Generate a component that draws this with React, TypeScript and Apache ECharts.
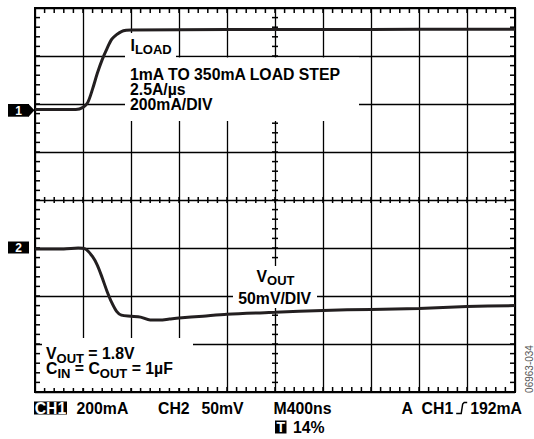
import React, { useEffect, useRef } from "react";
import * as echarts from "echarts";

// ---- data read from the scope shot ----
// time base: 400 ns / div, 10 divisions
const TIME_PER_DIV_NS = 400;
const TIME_DIVS = 10;
const VERT_DIVS = 8;
const MINOR_PER_DIV = 5;
const CH1_MA_PER_DIV = 200; // ILOAD 200 mA/div
const CH2_MV_PER_DIV = 50; // VOUT 50 mV/div
const CH1_GROUND_DIV = 1.875; // marker "1" position (divisions above centre)
const CH2_GROUND_DIV = -1; // marker "2" position

const ch1TimeNs = [0, 340, 400, 440, 480, 520, 560, 600, 640, 680, 720, 760, 800, 1600, 2400, 3200, 4000];
const ch1LoadmA = [2, 2, 11, 32, 88, 154, 210, 256, 295, 314, 327, 332, 333, 335, 335, 336, 336];

const ch2TimeNs = [0, 240, 360, 420, 480, 520, 560, 600, 640, 680, 720, 800, 880, 960, 1040, 1120, 1200, 1400, 1600, 2000, 2400, 2800, 3200, 3600, 4000];
const ch2VoutmV = [-1, -1, 0, -1, -9, -18, -31, -45, -57, -66, -70, -71, -72, -75, -75, -74, -73, -71, -69, -67, -65, -64, -63, -61, -60];

const FONT = '"Liberation Sans", Arial, Helvetica, sans-serif';
const INK = "#000";
const TRACE = "#231f20";
const FS = 15.8;
const SUB = 13;

let measureCtx: CanvasRenderingContext2D | null = null;
function measure(text: string, size: number, weight = "bold") {
  if (!measureCtx) measureCtx = document.createElement("canvas").getContext("2d");
  measureCtx!.font = `${weight} ${size}px ${FONT}`;
  return measureCtx!.measureText(text).width;
}

function txt(x: number, y: number, text: string, size: number, extra: any = {}) {
  return {
    type: "text",
    x,
    y,
    z: 8,
    style: {
      text,
      fontSize: size,
      fontWeight: "bold",
      fontFamily: FONT,
      fill: INK,
      align: "left",
      verticalAlign: "middle",
      ...extra,
    },
  };
}

// pieces: [text, size, dy]
function segs(x: number, y: number, pieces: [string, number, number][]) {
  const out: any[] = [];
  let cx = x;
  for (const [t, s, dy] of pieces) {
    const lead = t.length - t.trimStart().length;
    const leadW = lead ? measure(t.slice(0, lead), s) : 0;
    out.push(txt(cx + leadW, y + dy, t.trimStart(), s));
    cx += measure(t, s);
  }
  return out;
}
function segsWidth(pieces: [string, number, number][]) {
  return pieces.reduce((a, [t, s]) => a + measure(t, s), 0);
}

function whiteBox(x: number, y: number, w: number, h: number) {
  return { type: "rect", z: 6, shape: { x, y, width: w, height: h }, style: { fill: "#fff" } };
}
function blackBox(x: number, y: number, w: number, h: number) {
  return { type: "rect", z: 7, shape: { x, y, width: w, height: h }, style: { fill: "#000" } };
}

export default function App() {
  const ref = useRef<HTMLDivElement>(null);
  useEffect(() => {
    if (!ref.current) return;
    const chart = echarts.init(ref.current, undefined, { renderer: "svg" });

    const xMax = TIME_PER_DIV_NS * TIME_DIVS;
    const yHalf = VERT_DIVS / 2;
    const ch1Data = ch1TimeNs.map((t, i) => [t, CH1_GROUND_DIV + ch1LoadmA[i] / CH1_MA_PER_DIV]);
    const ch2Data = ch2TimeNs.map((t, i) => [t, CH2_GROUND_DIV + ch2VoutmV[i] / CH2_MV_PER_DIV]);

    // graticule minor ticks, drawn through the axes' own scales
    const BL = 5, CL = 3;
    const renderTicks = (_params: any, api: any) => {
      const children: any[] = [];
      const ln = (x1: number, y1: number, x2: number, y2: number) =>
        children.push({ type: "line", shape: { x1, y1, x2, y2 }, style: { stroke: INK, lineWidth: 1.5 } });
      const [left, top] = api.coord([0, yHalf]);
      const [right, bottom] = api.coord([xMax, -yHalf]);
      const [cx, cy] = api.coord([xMax / 2, 0]);
      for (let k = 1; k < TIME_DIVS * MINOR_PER_DIV; k++) {
        const x = api.coord([(k * TIME_PER_DIV_NS) / MINOR_PER_DIV, 0])[0];
        ln(x, top, x, top + BL);
        ln(x, bottom, x, bottom - BL);
        ln(x, cy - CL, x, cy + CL);
      }
      for (let k = 1; k < VERT_DIVS * MINOR_PER_DIV; k++) {
        const y = api.coord([0, -yHalf + k / MINOR_PER_DIV])[1];
        ln(left, y, left + BL, y);
        ln(right, y, right - BL, y);
        ln(cx - CL, y, cx + CL, y);
      }
      return { type: "group", children };
    };

    const vout1: [string, number, number][] = [["V", FS, 0], ["OUT", SUB, 4.5], [" = 1.8V", FS, 0]];
    const cinLine: [string, number, number][] = [["C", FS, 0], ["IN", SUB, 4.5], [" = C", FS, 0], ["OUT", SUB, 4.5], [" = 1µF", FS, 0]];
    const voutLbl: [string, number, number][] = [["V", FS, 0], ["OUT", SUB, 4.5]];
    const iload: [string, number, number][] = [["I", FS, 0], ["LOAD", SUB, 4]];

    const w192 = measure("192mA", FS);
    const wCH1 = measure("CH1", FS);
    const rightEnd = 522;
    const x192 = rightEnd - w192;
    const symR = x192 - 3;
    const symL = symR - 11;
    const xCH1b = symL - 3 - wCH1;
    const xA = xCH1b - measure("A  ", FS);

    const graphic: any[] = [
      // white label boxes covering the graticule
      whiteBox(125, 33, 51, 25),
      whiteBox(125, 57.5, 234, 63.5),
      whiteBox(233, 266, 84, 42),
      whiteBox(42, 338, 151, 50),
      // ILOAD annotation
      ...segs(130.5, 45.8, iload),
      txt(130, 74.2, "1mA TO 350mA LOAD STEP", FS),
      txt(130, 89.6, "2.5A/µs", FS),
      txt(130, 104.5, "200mA/DIV", FS),
      // VOUT annotation
      ...segs(275.5 - segsWidth(voutLbl) / 2, 276.3, voutLbl),
      txt(274.7, 298.3, "50mV/DIV", FS, { align: "center" }),
      ...segs(46, 353.8, vout1),
      ...segs(46, 368.8, cinLine),
      // channel markers
      blackBox(8, 104, 21, 12.7),
      { type: "polygon", z: 7, shape: { points: [[28.5, 104], [34.5, 110.3], [28.5, 116.7]] }, style: { fill: "#000" } },
      txt(18.5, 110.6, "1", 12, { fill: "#fff", align: "center" }),
      blackBox(8, 241.5, 21, 12),
      txt(18.5, 247.7, "2", 12, { fill: "#fff", align: "center" }),
      // bottom status line
      blackBox(34, 401.5, 33, 13),
      txt(50.5, 408.2, "CH1", FS, { fill: "#fff", align: "center" }),
      txt(76.5, 408, "200mA", FS),
      txt(158, 408, "CH2", FS),
      txt(201.5, 408, "50mV", FS),
      txt(273.5, 408, "M400ns", FS),
      txt(xA, 408, "A", FS),
      txt(xCH1b, 408, "CH1", FS),
      {
        type: "polyline",
        z: 8,
        shape: { points: [[symL, 413.5], [symL + 5, 413.5], [symL + 6.5, 404], [symL + 8, 402.5], [symR, 402.5]] },
        style: { stroke: "#000", lineWidth: 1.5, fill: null },
      },
      txt(x192, 408, "192mA", FS),
      blackBox(275, 420.5, 11.5, 13),
      txt(280.8, 427.2, "T", 14, { fill: "#fff", align: "center" }),
      txt(293, 427, "14%", FS),
      // figure number
      {
        type: "text",
        x: 529,
        y: 369,
        rotation: Math.PI / 2,
        z: 8,
        style: { text: "06963-034", fontSize: 10, fontFamily: FONT, fill: "#555", align: "center", verticalAlign: "middle" },
      },
    ];

    chart.setOption({
      animation: false,
      backgroundColor: "#fff",
      grid: { left: 35, top: 8, width: 480, height: 384, show: true, borderColor: INK, borderWidth: 2 },
      xAxis: {
        type: "value",
        min: 0,
        max: xMax,
        interval: TIME_PER_DIV_NS,
        axisLabel: { show: false },
        axisLine: { show: false, onZero: false },
        axisTick: { show: false },
        splitLine: { show: true, lineStyle: { color: INK, width: 1.3 } },
      },
      yAxis: {
        type: "value",
        min: -yHalf,
        max: yHalf,
        interval: 1,
        axisLabel: { show: false },
        axisLine: { show: false, onZero: false },
        axisTick: { show: false },
        splitLine: { show: true, lineStyle: { color: INK, width: 1.3 } },
      },
      series: [
        {
          name: "graticule ticks",
          type: "custom",
          data: [[0, 0]],
          renderItem: renderTicks,
          clip: false,
          z: 5,
        },
        {
          name: "ILOAD",
          type: "line",
          data: ch1Data,
          showSymbol: false,
          smooth: 0.3,
          z: 5,
          lineStyle: { color: TRACE, width: 3 },
        },
        {
          name: "VOUT",
          type: "line",
          data: ch2Data,
          showSymbol: false,
          smooth: 0.3,
          z: 5,
          lineStyle: { color: TRACE, width: 3 },
        },
      ],
      graphic,
    });
    return () => chart.dispose();
  }, []);
  return <div ref={ref} style={{ position: "fixed", left: 0, top: 0, width: 534, height: 439, background: "#fff" }} />;
}
